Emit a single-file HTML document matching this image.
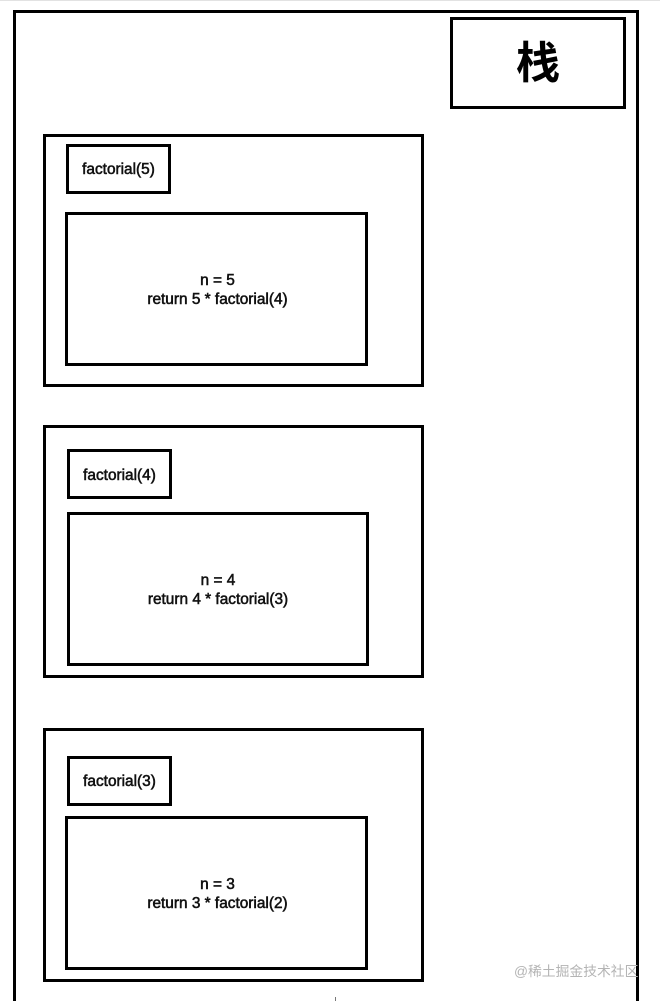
<!DOCTYPE html>
<html>
<head>
<meta charset="utf-8">
<style>
html,body{margin:0;padding:0;background:#fff}
#p{position:relative;width:660px;height:1001px;overflow:hidden;background:#fff;font-family:"Liberation Sans","Noto Sans CJK SC",sans-serif;color:#000}
.b{position:absolute;box-sizing:border-box;border:3px solid #000}
.t{position:absolute;text-align:center;font-size:15.4px;line-height:19px;white-space:nowrap;color:#111;-webkit-text-stroke:0.55px #111}
</style>
</head>
<body>
<div id="p">
<div style="position:absolute;left:0;top:0;width:660px;height:1px;background:#e2e2e2"></div>
<div class="b" style="left:13px;top:10px;width:626px;height:1010px"></div>
<div class="b" style="left:450px;top:17px;width:175.5px;height:92px"></div>
<div class="t" style="left:450px;top:34px;width:176px;font-size:44px;line-height:60px;font-weight:bold;color:#000;-webkit-text-stroke:0">栈</div>

<div class="b" style="left:43px;top:134px;width:381px;height:253px"></div>
<div class="b" style="left:66px;top:144px;width:105px;height:50px"></div>
<div class="t" style="left:66px;top:160px;width:105px">factorial(5)</div>
<div class="b" style="left:65px;top:212px;width:303px;height:154px"></div>
<div class="t" style="left:66px;top:271px;width:303px">n = 5<br>return 5 * factorial(4)</div>

<div class="b" style="left:43px;top:425px;width:381px;height:253px"></div>
<div class="b" style="left:67px;top:449px;width:105px;height:50px"></div>
<div class="t" style="left:67px;top:466px;width:105px">factorial(4)</div>
<div class="b" style="left:67px;top:512px;width:302px;height:154px"></div>
<div class="t" style="left:67px;top:571px;width:302px">n = 4<br>return 4 * factorial(3)</div>

<div class="b" style="left:43px;top:728px;width:381px;height:254px"></div>
<div class="b" style="left:67px;top:756px;width:105px;height:50px"></div>
<div class="t" style="left:67px;top:772px;width:105px">factorial(3)</div>
<div class="b" style="left:65px;top:816px;width:303px;height:154px"></div>
<div class="t" style="left:66px;top:875px;width:303px">n = 3<br>return 3 * factorial(2)</div>

<div style="position:absolute;left:335px;top:997px;width:1px;height:4px;background:#777"></div>
<div class="t" style="left:514px;top:962px;width:126px;text-align:left;font-size:13.8px;color:#b4b4b4;-webkit-text-stroke:0">@稀土掘金技术社区</div>
</div>
</body>
</html>
